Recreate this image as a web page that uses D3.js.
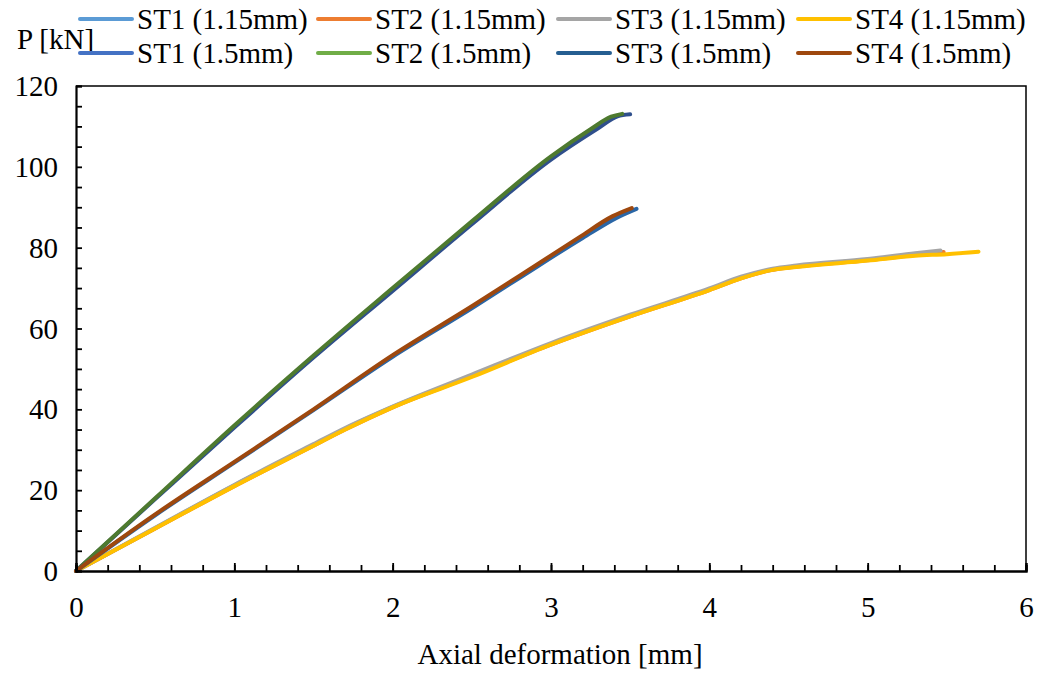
<!DOCTYPE html>
<html>
<head>
<meta charset="utf-8">
<script src="https://cdn.jsdelivr.net/npm/d3@7"></script>
<style>
  html, body { margin: 0; padding: 0; background: #fff; }
  svg text { font-family: "Liberation Serif", "Times New Roman", serif; fill: #000; }
</style>
</head>
<body>
<svg id="chart" width="1039" height="675"></svg>
<script>
// ---- data ----
const seriesNames = ["ST1 (1.15mm)", "ST2 (1.15mm)", "ST3 (1.15mm)", "ST4 (1.15mm)",
                     "ST1 (1.5mm)", "ST2 (1.5mm)", "ST3 (1.5mm)", "ST4 (1.5mm)"];
const seriesColors = ["#5B9BD5", "#ED7D31", "#A5A5A5", "#FFC000",
                      "#4472C4", "#70AD47", "#255E91", "#9E480E"];
// colours as they appear on the plotted curves (overlapping curves look darker)
const curveColors = ["#5B9BD5", "#ED7D31", "#A5A5A5", "#FFC000",
                     "#2F4F8C", "#4E7A2F", "#2A66A6", "#9E480E"];

const st1_115_x = [0, 0.5, 1, 1.5, 1.7, 2, 2.5, 3, 3.5, 4, 4.2, 4.4, 4.55, 5, 5.3, 5.42];
const st1_115_y = [0, 10.6, 21.2, 31.2, 35.2, 40.6, 48.3, 56.2, 63.2, 69.7, 72.6, 74.6, 75.4, 77.0, 78.3, 78.9];
const st2_115_x = [0, 0.5, 1, 1.5, 1.7, 2, 2.5, 3, 3.5, 4, 4.2, 4.4, 4.55, 5, 5.3, 5.48];
const st2_115_y = [0, 10.5, 21.0, 31.0, 35.0, 40.5, 48.2, 56.0, 63.0, 69.5, 72.4, 74.5, 75.3, 76.9, 78.2, 78.9];
const st3_115_x = [0, 0.5, 1, 1.5, 1.7, 2, 2.5, 3, 3.5, 4, 4.2, 4.4, 4.55, 5, 5.3, 5.46];
const st3_115_y = [0, 10.7, 21.3, 31.4, 35.4, 40.7, 48.6, 56.4, 63.4, 69.9, 72.8, 74.8, 75.6, 77.2, 78.6, 79.3];
const st4_115_x = [0, 0.5, 1, 1.5, 1.7, 2, 2.5, 3, 3.5, 4, 4.2, 4.4, 4.55, 5, 5.3, 5.5, 5.7];
const st4_115_y = [0, 10.5, 21.0, 31.0, 35.0, 40.5, 48.0, 56.0, 63.0, 69.5, 72.4, 74.5, 75.2, 76.8, 78.0, 78.4, 79.0];

const st1_15_x = [0, 0.5, 1, 1.5, 2, 2.5, 3, 3.3, 3.42, 3.5];
const st1_15_y = [0, 17.8, 35.5, 52.8, 69.3, 85.8, 101.8, 109.6, 112.5, 113.0];
const st2_15_x = [0, 0.5, 1, 1.5, 2, 2.5, 3, 3.25, 3.38, 3.45];
const st2_15_y = [0, 18.0, 36.0, 53.3, 70.0, 86.5, 102.6, 109.3, 112.4, 113.1];
const st3_15_x = [0, 0.5, 1, 1.5, 2, 2.5, 2.8, 3.2, 3.42, 3.54];
const st3_15_y = [0, 13.8, 26.8, 39.8, 53.0, 65.0, 72.5, 82.4, 87.5, 89.6];
const st4_15_x = [0, 0.5, 1, 1.5, 2, 2.5, 2.8, 3.18, 3.39, 3.51];
const st4_15_y = [0, 14.0, 27.0, 40.0, 53.4, 65.5, 73.0, 82.6, 87.8, 89.8];

const xTickValues = [0, 1, 2, 3, 4, 5, 6];
const yTickValues = [0, 20, 40, 60, 80, 100, 120];
const xLabel = "Axial deformation [mm]";
const yLabel = "P [kN]";

const seriesX = [st1_115_x, st2_115_x, st3_115_x, st4_115_x, st1_15_x, st2_15_x, st3_15_x, st4_15_x];
const seriesY = [st1_115_y, st2_115_y, st3_115_y, st4_115_y, st1_15_y, st2_15_y, st3_15_y, st4_15_y];

// ---- layout ----
const svg = d3.select("#chart");
const plot = { left: 76, top: 86, right: 1026, bottom: 571 };
const FS = 29;

const x = d3.scaleLinear().domain([0, 6]).range([plot.left, plot.right]);
const y = d3.scaleLinear().domain([0, 120]).range([plot.bottom, plot.top]);

// frame (top & right)
svg.append("path")
  .attr("d", `M${plot.left},${plot.top}H${plot.right}V${plot.bottom}`)
  .attr("fill", "none").attr("stroke", "#000").attr("stroke-width", 1.5);

// data lines
const line = d3.line().x(d => x(d[0])).y(d => y(d[1])).curve(d3.curveMonotoneX);
const dataG = svg.append("g");
seriesNames.forEach((name, i) => {
  const pts = seriesX[i].map((v, j) => [v, seriesY[i][j]]);
  dataG.append("path")
    .datum(pts)
    .attr("d", line)
    .attr("fill", "none")
    .attr("stroke", curveColors[i])
    .attr("stroke-width", 4)
    .attr("stroke-linecap", "round")
    .attr("stroke-linejoin", "round");
});

// x axis: minor ticks (inside)
const xAxisMinor = d3.axisBottom(x).tickValues(d3.range(0, 6.001, 0.2)).tickSize(-6).tickFormat("");
const xAxisMajor = d3.axisBottom(x).tickValues(xTickValues).tickSize(-8).tickFormat("");
const gxMin = svg.append("g").attr("transform", `translate(0,${plot.bottom})`).call(xAxisMinor);
const gxMaj = svg.append("g").attr("transform", `translate(0,${plot.bottom})`).call(xAxisMajor);
[gxMin, gxMaj].forEach(g => {
  g.selectAll("path.domain").attr("stroke", "#000").attr("stroke-width", 2.2);
  g.selectAll(".tick line").attr("stroke", "#000").attr("stroke-width", 1.8);
});
gxMaj.selectAll(".tick").append("text")
  .attr("y", 46).attr("text-anchor", "middle")
  .style("font-size", FS + "px")
  .text(d => d);

// y axis
const yAxisMinor = d3.axisLeft(y).tickValues(d3.range(0, 120.001, 5)).tickSize(-6).tickFormat("");
const gyMin = svg.append("g").attr("transform", `translate(${plot.left},0)`).call(yAxisMinor);
gyMin.selectAll("path.domain").attr("stroke", "#000").attr("stroke-width", 2.2);
gyMin.selectAll(".tick line").attr("stroke", "#000").attr("stroke-width", 1.8);
const yLabels = svg.append("g");
yLabels.selectAll("text").data(yTickValues).join("text")
  .attr("x", 58).attr("y", d => y(d) + 10)
  .attr("text-anchor", "end")
  .style("font-size", FS + "px")
  .text(d => d);

// axis titles
svg.append("text")
  .attr("x", (plot.left + plot.right) / 2 + 9).attr("y", 664)
  .attr("text-anchor", "middle")
  .style("font-size", FS + "px")
  .text(xLabel);
svg.append("text")
  .attr("x", 17).attr("y", 49)
  .style("font-size", FS + "px")
  .text(yLabel);

// legend
const legX = [80, 318, 558, 798];
const legY = [19, 53];
seriesNames.forEach((name, i) => {
  const col = i % 4, row = Math.floor(i / 4);
  const g = svg.append("g").attr("transform", `translate(${legX[col]},${legY[row]})`);
  g.append("line").attr("x1", 0).attr("x2", 52).attr("y1", 0).attr("y2", 0)
    .attr("stroke", seriesColors[i]).attr("stroke-width", 4).attr("stroke-linecap", "round");
  g.append("text").attr("x", 57).attr("y", 10)
    .style("font-size", FS + "px")
    .text(name);
});
</script>
</body>
</html>
